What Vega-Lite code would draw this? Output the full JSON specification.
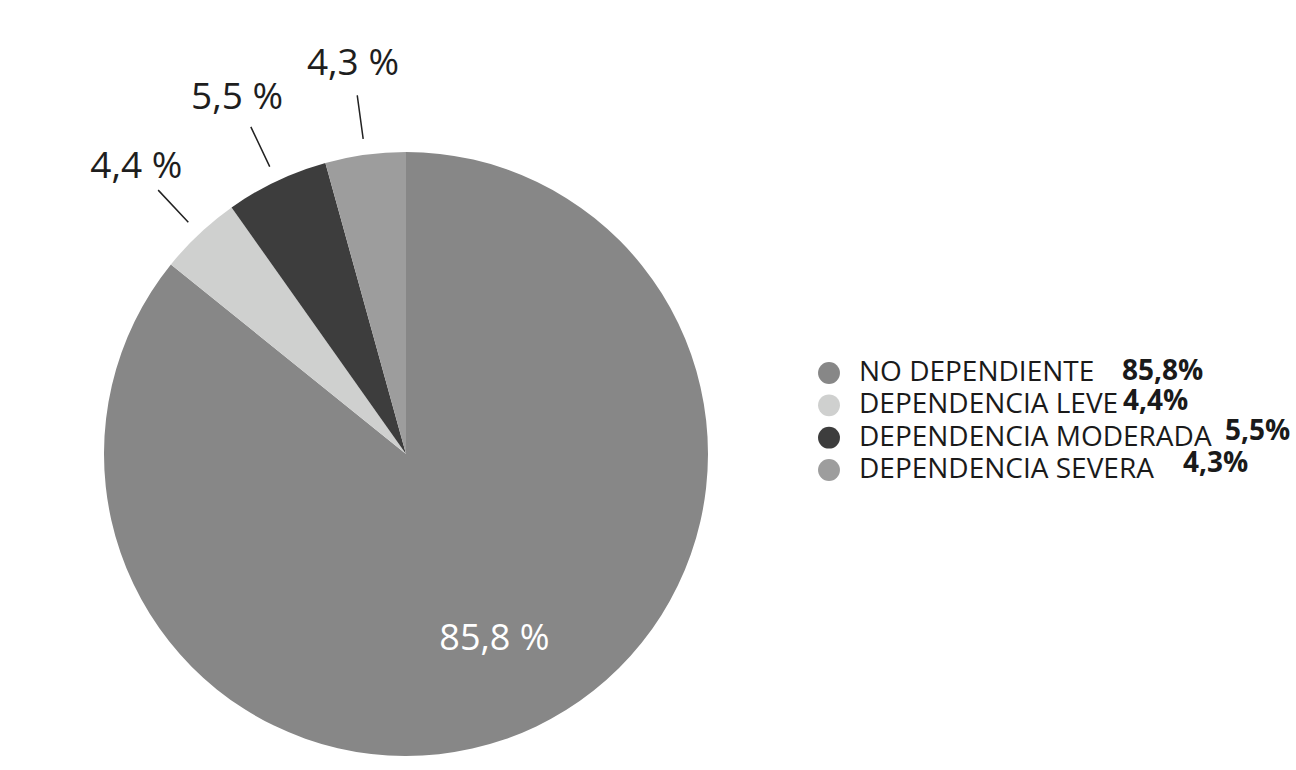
{
  "$schema": "https://vega.github.io/schema/vega-lite/v6.json",
  "autosize": {"type": "fit", "contains": "padding"},
  "width": 1296,
  "height": 770,
  "padding": 0,
  "background": "white",
  "config": {"view": {"stroke": null}, "font": "Open Sans"},
  "datasets": {
    "dep": [
      {"categoria": "NO DEPENDIENTE", "valor": 85.8, "orden": 1, "etiqueta": "85,8 %", "pct": "85,8%"},
      {"categoria": "DEPENDENCIA LEVE", "valor": 4.4, "orden": 2, "etiqueta": "4,4 %", "pct": "4,4%"},
      {"categoria": "DEPENDENCIA MODERADA", "valor": 5.5, "orden": 3, "etiqueta": "5,5 %", "pct": "5,5%"},
      {"categoria": "DEPENDENCIA SEVERA", "valor": 4.3, "orden": 4, "etiqueta": "4,3 %", "pct": "4,3%"}
    ]
  },
  "data": {"name": "dep"},
  "resolve": {"scale": {"y": "independent"}},
  "layer": [
    {
      "encoding": {
        "x": {"datum": 406, "type": "quantitative", "scale": {"domain": [0, 1296], "nice": false, "zero": false}, "axis": null},
        "y": {"datum": 454, "type": "quantitative", "scale": {"domain": [0, 770], "reverse": true, "nice": false, "zero": false}, "axis": null},
        "theta": {"field": "valor", "type": "quantitative", "stack": true, "scale": {"domain": [0, 100]}},
        "order": {"field": "orden", "type": "quantitative"}
      },
      "layer": [
        {
          "mark": {"type": "arc", "radius": 302},
          "encoding": {
            "color": {
              "field": "categoria", "type": "nominal",
              "scale": {
                "domain": ["NO DEPENDIENTE", "DEPENDENCIA LEVE", "DEPENDENCIA MODERADA", "DEPENDENCIA SEVERA"],
                "range": ["#878787", "#cfd0cf", "#3d3d3d", "#9d9d9d"]
              },
              "legend": null
            }
          }
        },
        {
          "mark": {"type": "arc", "radius": 362, "radius2": 318, "padAngle": 1.2, "filled": false, "stroke": "#222222", "strokeWidth": 1.5, "clip": true},
          "encoding": {
            "detail": {"field": "categoria", "type": "nominal"},
            "strokeOpacity": {"condition": {"test": "datum.categoria === 'NO DEPENDIENTE'", "value": 0}, "value": 1}
          }
        },
        {
          "mark": {"type": "text", "radius": 394, "fontSize": 37, "color": "#1e1e1e", "clip": true},
          "encoding": {
            "detail": {"field": "categoria", "type": "nominal"},
            "text": {"field": "etiqueta", "type": "nominal"},
            "opacity": {"condition": {"test": "datum.categoria === 'NO DEPENDIENTE'", "value": 0}, "value": 1}
          }
        },
        {
          "mark": {"type": "text", "radius": 205, "fontSize": 36, "color": "#ffffff", "clip": true},
          "encoding": {
            "detail": {"field": "categoria", "type": "nominal"},
            "text": {"field": "etiqueta", "type": "nominal"},
            "opacity": {"condition": {"test": "datum.categoria !== 'NO DEPENDIENTE'", "value": 0}, "value": 1}
          }
        }
      ]
    },
    {
      "encoding": {
        "y": {"field": "categoria", "type": "nominal", "sort": {"field": "orden"}, "scale": {"type": "point", "range": [373, 470], "padding": 0}, "axis": null}
      },
      "layer": [
        {
          "mark": {"type": "circle", "size": 480, "opacity": 1},
          "encoding": {
            "x": {"datum": 829, "type": "quantitative"},
            "color": {
              "field": "categoria", "type": "nominal",
              "scale": {
                "domain": ["NO DEPENDIENTE", "DEPENDENCIA LEVE", "DEPENDENCIA MODERADA", "DEPENDENCIA SEVERA"],
                "range": ["#878787", "#cfd0cf", "#3d3d3d", "#9d9d9d"]
              },
              "legend": null
            }
          }
        },
        {
          "mark": {"type": "text", "align": "left", "baseline": "middle", "fontSize": 28, "color": "#1a1a1a"},
          "encoding": {
            "x": {"datum": 859, "type": "quantitative"},
            "text": {"field": "categoria", "type": "nominal"}
          }
        },
        {
          "transform": [{"filter": "datum.orden === 1"}],
          "mark": {"type": "text", "align": "left", "baseline": "middle", "fontSize": 28, "fontWeight": "bold", "color": "#1a1a1a", "dy": -1},
          "encoding": {"x": {"datum": 1122, "type": "quantitative"}, "text": {"field": "pct", "type": "nominal"}}
        },
        {
          "transform": [{"filter": "datum.orden === 2"}],
          "mark": {"type": "text", "align": "left", "baseline": "middle", "fontSize": 28, "fontWeight": "bold", "color": "#1a1a1a", "dy": -3},
          "encoding": {"x": {"datum": 1123, "type": "quantitative"}, "text": {"field": "pct", "type": "nominal"}}
        },
        {
          "transform": [{"filter": "datum.orden === 3"}],
          "mark": {"type": "text", "align": "left", "baseline": "middle", "fontSize": 28, "fontWeight": "bold", "color": "#1a1a1a", "dy": -6},
          "encoding": {"x": {"datum": 1225, "type": "quantitative"}, "text": {"field": "pct", "type": "nominal"}}
        },
        {
          "transform": [{"filter": "datum.orden === 4"}],
          "mark": {"type": "text", "align": "left", "baseline": "middle", "fontSize": 28, "fontWeight": "bold", "color": "#1a1a1a", "dy": -6},
          "encoding": {"x": {"datum": 1183, "type": "quantitative"}, "text": {"field": "pct", "type": "nominal"}}
        }
      ]
    }
  ]
}
